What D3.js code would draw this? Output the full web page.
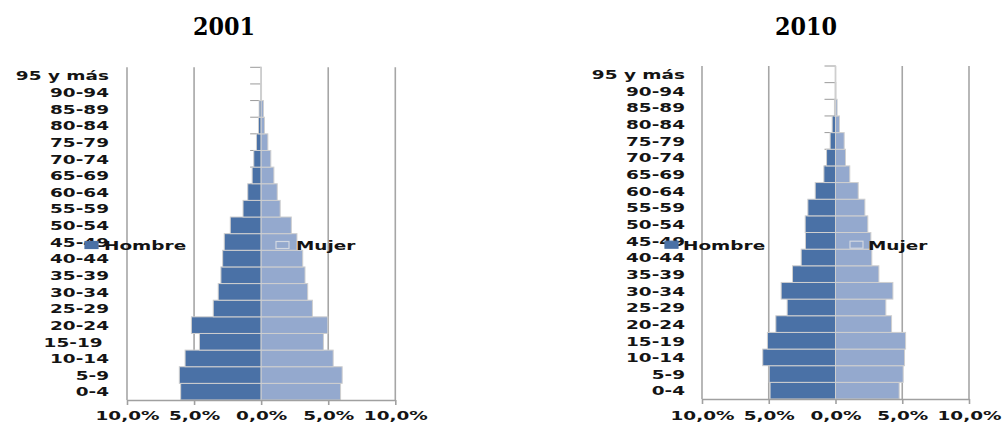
<!DOCTYPE html>
<html>
<head>
<meta charset="utf-8">
<script src="https://cdn.jsdelivr.net/npm/d3@7"></script>
<style>
  html, body { margin: 0; padding: 0; background: #fff; }
  svg { display: block; }
  text { font-family: "DejaVu Sans", Verdana, sans-serif; font-weight: bold; fill: #141414; }
</style>
</head>
<body>
<svg id="chart" width="1002" height="423"></svg>
<script>
// ---- data (percent of population), bottom to top ----
const categories = ["0-4","5-9","10-14","15-19","20-24","25-29","30-34","35-39","40-44","45-49",
                    "50-54","55-59","60-64","65-69","70-74","75-79","80-84","85-89","90-94","95 y más"];
const categories2001 = ["0-4","5-9","10-14","15-19 ","20-24","25-29","30-34","35-39","40-44","45-49",
                    "50-54","55-59","60-64","65-69","70-74","75-79","80-84","85-89","90-94","95 y más"];
const hombre2001 = [6.0, 6.1, 5.67, 4.6, 5.2, 3.57, 3.2, 3.0, 2.87, 2.75, 2.3, 1.35, 1.0, 0.67, 0.55, 0.35, 0.2, 0.15, 0.02, 0.01];
const mujer2001  = [5.92, 6.04, 5.37, 4.64, 4.97, 3.82, 3.47, 3.27, 3.1, 2.67, 2.25, 1.42, 1.2, 0.95, 0.72, 0.5, 0.25, 0.17, 0.03, 0.01];
const hombre2010 = [4.9, 4.97, 5.45, 5.1, 4.47, 3.62, 4.07, 3.22, 2.57, 2.25, 2.27, 2.07, 1.52, 0.87, 0.67, 0.4, 0.25, 0.08, 0.02, 0.01];
const mujer2010  = [4.77, 5.07, 5.17, 5.25, 4.2, 3.77, 4.3, 3.25, 2.72, 2.65, 2.42, 2.2, 1.7, 1.07, 0.75, 0.65, 0.3, 0.12, 0.03, 0.01];
const tickValues = [-10, -5, 0, 5, 10];
const tickLabels = ["10,0%", "5,0%", "0,0%", "5,0%", "10,0%"];
const seriesNames = ["Hombre", "Mujer"];
const titles = ["2001", "2010"];

const colors = { hombre: "#4a71a6", mujer: "#94a9ce", barStroke: "#cfcfcf", grid: "#a6a6a6", axis: "#a0a0a0", center: "#c4c4c4" };
const SX = 1.42;
const FS = "13px";

const panels = [
  { title: titles[0], cats: categories2001, hombre: hombre2001, mujer: mujer2001,
    x0: 127, x1: 395.3, top: 67.3, bottom: 400, labelRight: 109, titleX: 224,
    leg: { y: 245, hSq: 85, hTxt: 104, mSq: 276, mTxt: 296 } },
  { title: titles[1], cats: categories, hombre: hombre2010, mujer: mujer2010,
    x0: 702, x1: 969, top: 66, bottom: 399, labelRight: 685, titleX: 806,
    leg: { y: 244.7, hSq: 665, hTxt: 683, mSq: 850, mTxt: 868 } }
];

const svg = d3.select("#chart");

panels.forEach(p => {
  const g = svg.append("g");
  const x = d3.scaleLinear().domain([-10, 10]).range([p.x0, p.x1]);
  const y = d3.scaleBand().domain(p.cats).range([p.bottom, p.top]).paddingInner(0).paddingOuter(0);

  // title
  g.append("text")
    .attr("transform", `translate(${p.titleX},35) scale(0.93,1)`)
    .attr("text-anchor", "middle")
    .style("font-family", "'DejaVu Serif', serif")
    .style("font-size", "24px")
    .style("fill", "#000")
    .text(p.title);

  // vertical gridlines at ±5, ±10
  g.selectAll("line.grid").data(tickValues.filter(v => v !== 0)).enter().append("line")
    .attr("x1", d => x(d)).attr("x2", d => x(d))
    .attr("y1", p.top).attr("y2", p.bottom)
    .attr("stroke", colors.grid).attr("stroke-width", 1.6);

  // center axis with category boundary ticks
  const bounds = p.cats.map(c => y(c)).concat([p.bottom]);
  g.selectAll("line.ctick").data(bounds).enter().append("line")
    .attr("x1", x(0) - 11).attr("x2", x(0))
    .attr("y1", d => d).attr("y2", d => d)
    .attr("stroke", "#9a9a9a").attr("stroke-width", 1);
  g.append("line")
    .attr("x1", x(0)).attr("x2", x(0)).attr("y1", p.top).attr("y2", p.bottom)
    .attr("stroke", colors.center).attr("stroke-width", 1.5);

  // bars
  const rows = p.cats.map((c, i) => ({ c, h: p.hombre[i], m: p.mujer[i] }));
  g.selectAll("rect.h").data(rows).enter().append("rect")
    .attr("x", d => x(-d.h)).attr("y", d => y(d.c))
    .attr("width", d => x(0) - x(-d.h)).attr("height", y.bandwidth())
    .attr("fill", colors.hombre).attr("stroke", colors.barStroke).attr("stroke-width", 1);
  g.selectAll("rect.m").data(rows).enter().append("rect")
    .attr("x", x(0)).attr("y", d => y(d.c))
    .attr("width", d => x(d.m) - x(0)).attr("height", y.bandwidth())
    .attr("fill", colors.mujer).attr("stroke", colors.barStroke).attr("stroke-width", 1);

  // bottom axis
  const ax = d3.axisBottom(x).tickValues(tickValues)
    .tickFormat((d, i) => tickLabels[i]).tickSizeInner(5).tickSizeOuter(0).tickPadding(7);
  const axg = g.append("g").attr("transform", `translate(0,${p.bottom})`).call(ax);
  axg.select(".domain").attr("stroke", colors.axis).attr("stroke-width", 1.6);
  axg.selectAll(".tick line").attr("stroke", colors.axis).attr("stroke-width", 1.6);
  axg.selectAll(".tick text")
    .attr("y", 0).attr("dy", 0)
    .attr("transform", `translate(0,${419.5 - p.bottom}) scale(${SX},1)`)
    .style("font-size", FS).style("font-family", "'DejaVu Sans', Verdana, sans-serif")
    .attr("fill", "#141414");

  // category labels
  const ay = d3.axisLeft(y).tickSize(0).tickPadding(0);
  const ayg = g.append("g").attr("transform", `translate(${p.labelRight},0)`).call(ay);
  ayg.select(".domain").remove();
  ayg.selectAll(".tick text")
    .attr("x", 0).attr("dy", 0).attr("y", 0)
    .attr("transform", `translate(0,4.8) scale(${SX},1)`)
    .style("white-space", "pre")
    .style("font-size", FS).style("font-family", "'DejaVu Sans', Verdana, sans-serif")
    .attr("fill", "#141414");

  // legend
  const L = p.leg;
  const lg = g.append("g");
  const legItems = [
    { name: seriesNames[0], sq: L.hSq, tx: L.hTxt, fill: colors.hombre, stroke: colors.hombre },
    { name: seriesNames[1], sq: L.mSq, tx: L.mTxt, fill: colors.mujer, stroke: "#d2d8e2" }
  ];
  lg.selectAll("rect").data(legItems).enter().append("rect")
    .attr("x", d => d.sq).attr("y", L.y - 3.5).attr("width", 13).attr("height", 7)
    .attr("fill", d => d.fill).attr("stroke", d => d.stroke).attr("stroke-width", 1.2);
  lg.selectAll("text").data(legItems).enter().append("text")
    .attr("transform", d => `translate(${d.tx},${L.y + 5}) scale(${SX},1)`)
    .style("font-size", FS)
    .text(d => d.name);
});
</script>
</body>
</html>
